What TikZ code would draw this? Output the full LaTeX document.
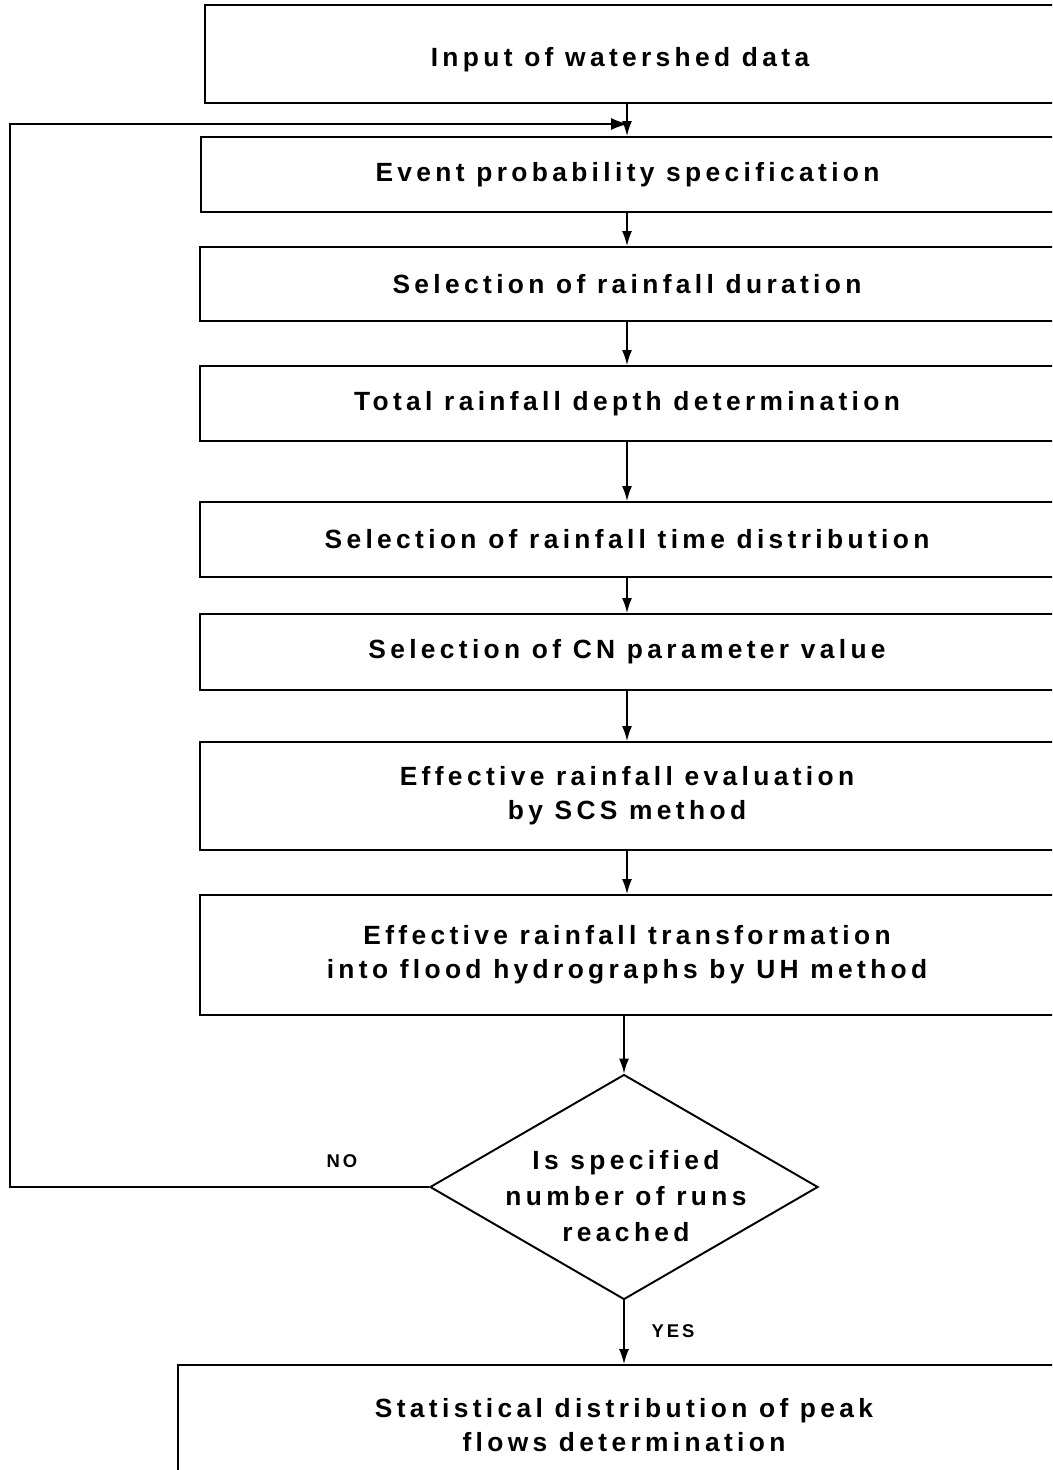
\documentclass[tikz,border=0pt]{standalone}
\usepackage{fontspec}
\setmainfont{Liberation Sans}[LetterSpace=16.5]
\usetikzlibrary{shapes.geometric,arrows.meta}
\begin{document}
\begin{tikzpicture}[x=0.02cm,y=-0.02cm,
  line width=1.1pt,
  box/.style={draw, rectangle, inner sep=0pt, align=center,
    font=\fontsize{15}{19.4}\selectfont\bfseries},
  txt/.style={inner sep=0pt, align=center, font=\fontsize{15}{20.5}\selectfont\bfseries},
  small/.style={inner sep=0pt, font=\fontsize{10.5}{12}\selectfont\bfseries},
  arr/.style={-{Latex[length=0.3cm,width=0.2cm]}, line width=0.9pt}]
\clip (0,0) rectangle (1052,1470);
\fill[white] (0,0) rectangle (1052,1470);
% boxes (right edges fall outside the page)
\node[box, minimum width=849*0.02cm, minimum height=98*0.02cm,
  label={[txt, yshift=-0.11cm, xshift=-0.19cm]center:Input of watershed data}] (b1) at (629.5,54) {};
\node[box, minimum width=853*0.02cm, minimum height=75*0.02cm] (b2) at (627.5,174.5) {Event probability specification};
\node[box, minimum width=854*0.02cm, minimum height=74*0.02cm] (b3) at (627,284) {Selection of rainfall duration};
\node[box, minimum width=854*0.02cm, minimum height=75*0.02cm] (b4) at (627,403.5) {Total rainfall depth determination};
\node[box, minimum width=854*0.02cm, minimum height=75*0.02cm] (b5) at (627,539.5) {Selection of rainfall time distribution};
\node[box, minimum width=854*0.02cm, minimum height=76*0.02cm] (b6) at (627,652) {Selection of CN parameter value};
\node[box, minimum width=854*0.02cm, minimum height=108*0.02cm] (b7) at (627,796) {Effective rainfall evaluation\\by SCS method};
\node[box, minimum width=854*0.02cm, minimum height=120*0.02cm] (b8) at (627,955) {Effective rainfall transformation\\into flood hydrographs by UH method};
\node[draw, diamond, minimum width=388*0.02cm, minimum height=225*0.02cm, inner sep=0pt] (dia) at (624,1187) {};
\node[txt] (diat) at (626,1196) {Is specified\\number of runs\\reached};
\node[box, minimum width=892*0.02cm, minimum height=120*0.02cm] (b9) at (624,1425) {Statistical distribution of peak\\flows determination};
% connectors
\coordinate (cx) at (627,0);
\draw[arr] (b1.south -| cx) -- (b2.north -| cx);
\draw[arr] (b2.south -| cx) -- (b3.north -| cx);
\draw[arr] (b3.south -| cx) -- (b4.north -| cx);
\draw[arr] (b4.south -| cx) -- (b5.north -| cx);
\draw[arr] (b5.south -| cx) -- (b6.north -| cx);
\draw[arr] (b6.south -| cx) -- (b7.north -| cx);
\draw[arr] (b7.south -| cx) -- (b8.north -| cx);
\draw[arr] (b8.south -| dia.north) -- (dia.north);
\draw[arr] (dia.south) -- (b9.north -| dia.south);
\coordinate (loopc) at (10,124);
\coordinate (join) at (628,124);
\draw[-{Latex[length=0.34cm,width=0.24cm]}, line width=0.9pt] (dia.west) -- (dia.west -| loopc) -- (loopc) -- (join);
\node[small] (no) at (342,1161) {NO};
\node[small] (yes) at (673,1331) {YES};
\end{tikzpicture}
\end{document}
